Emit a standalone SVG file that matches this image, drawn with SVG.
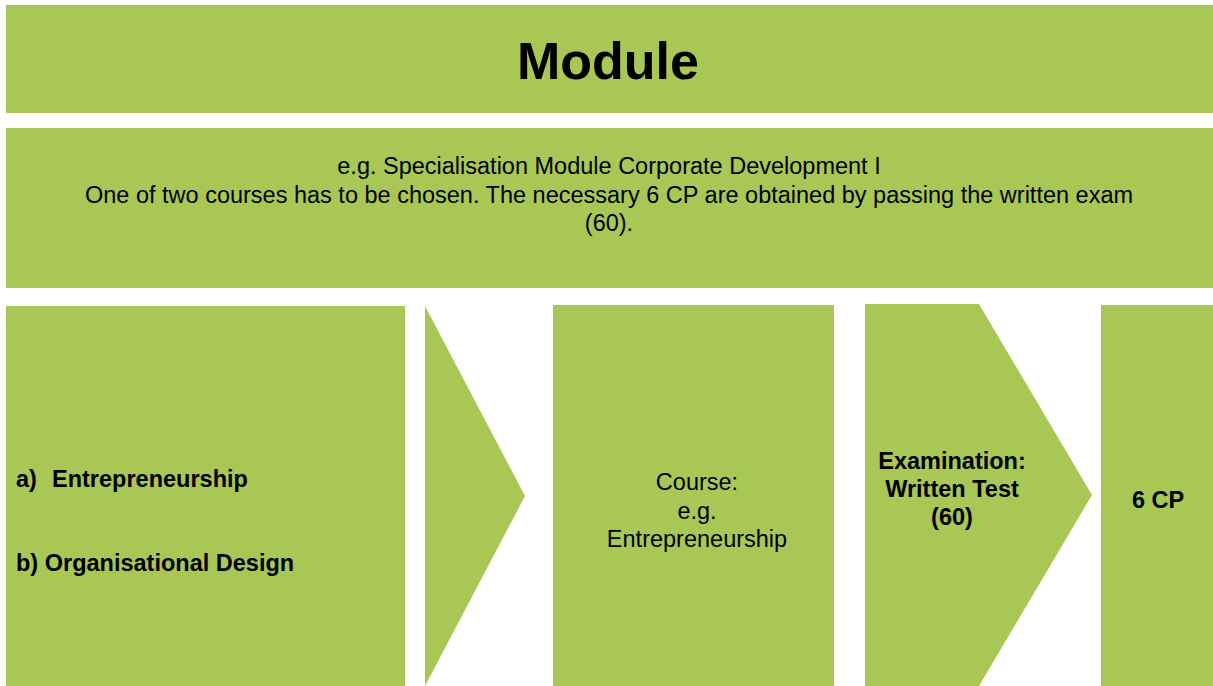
<svg xmlns="http://www.w3.org/2000/svg" width="1213" height="686" viewBox="0 0 1213 686">
<style>
.box{fill:#A9C755;}
.t{font-family:"Liberation Sans",Arial,sans-serif;fill:#000;}
.n{font-size:23.5px;}
.b{font-size:23.5px;font-weight:bold;}
.c{text-anchor:middle;}
</style>
<rect x="0" y="0" width="1213" height="686" fill="#fff"/>
<g id="module-title">
<rect class="box" x="6" y="5" width="1207" height="108"/>
<text class="t c" x="608" y="79" font-size="52" font-weight="bold">Module</text>
</g>
<g id="module-description">
<rect class="box" x="6" y="128" width="1207" height="160"/>
<text class="t n c" x="609" y="174">e.g. Specialisation Module Corporate Development I</text>
<text class="t n c" x="609" y="203">One of two courses has to be chosen. The necessary 6 CP are obtained by passing the written exam</text>
<text class="t n c" x="609" y="231">(60).</text>
</g>
<g id="course-options">
<rect class="box" x="6" y="306" width="399" height="380"/>
<text class="t b" x="16" y="487">a)</text>
<text class="t b" x="52" y="487">Entrepreneurship</text>
<text class="t b" x="16" y="571">b) Organisational Design</text>
</g>
<g id="connectors">
<polygon class="box" points="425,306 525,496 425,686"/>
</g>
<g id="course">
<rect class="box" x="553" y="305" width="281" height="381"/>
<text class="t n c" x="697" y="490">Course:</text>
<text class="t n c" x="697" y="519">e.g.</text>
<text class="t n c" x="697" y="547">Entrepreneurship</text>
</g>
<g id="examination">
<polygon class="box" points="865,304 979,304 1092,495 979,686 865,686"/>
<text class="t b c" x="952" y="469">Examination:</text>
<text class="t b c" x="952" y="497">Written Test</text>
<text class="t b c" x="952" y="525">(60)</text>
</g>
<g id="credit-points">
<rect class="box" x="1101" y="305" width="112" height="381"/>
<text class="t b c" x="1158" y="508">6 CP</text>
</g>
</svg>
